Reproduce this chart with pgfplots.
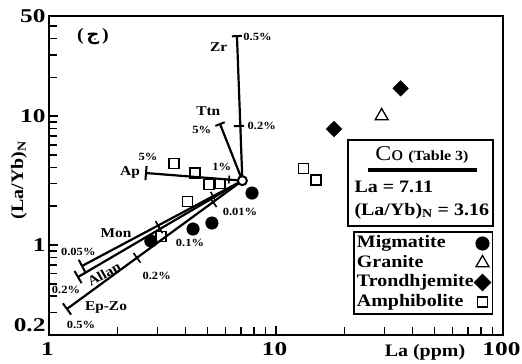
\documentclass[border=0pt]{standalone}
\usepackage{fontspec}
\setmainfont{Liberation Serif}[FakeStretch=1.14]
\newfontfamily\tickfont{Liberation Serif}[FakeStretch=1.3]
\newfontfamily\arabicfont[Script=Arabic]{DejaVu Sans}
\TeXXeTstate=1
\usepackage{pgfplots}
\pgfplotsset{compat=1.18}

\newcommand{\lblfont}{\bfseries\fontsize{13.5}{13.5}\selectfont}
\newcommand{\pctfont}{\bfseries\fontsize{11}{11}\selectfont}
\newcommand{\txtfont}{\bfseries\fontsize{17.5}{17.5}\selectfont}

\begin{document}
\begin{tikzpicture}
\useasboundingbox (0pt,0pt) rectangle (522pt,-364pt);
\begin{axis}[
  at={(49pt,-335pt)}, anchor=south west,
  scale only axis, width=454pt, height=319pt,
  xmode=log, ymode=log,
  xmin=1, xmax=100, ymin=0.2, ymax=60,
  axis line style={line width=2.4pt},
  xtick={1,10,100}, xticklabels={1,10,100},
  minor xtick={2,3,4,5,6,7,8,9,20,30,40,50,60,70,80,90},
  ytick={1,10}, yticklabels={1,10},
  minor ytick={0.3,0.4,0.5,0.6,0.7,0.8,0.9,2,3,4,5,6,7,8,9,20,30,40,50},
  extra y ticks={0.2,50}, extra y tick labels={0.2,50},
  extra y tick style={yticklabel style={yshift=10pt}, major tick length=0pt},
  xtick pos=bottom, ytick pos=left,
  tick align=inside, major tick length=9pt, minor tick length=8pt,
  every tick/.style={black, line width=1.6pt},
  tick label style={font=\tickfont\bfseries\fontsize{19.5}{19.5}\selectfont},
  xticklabel style={yshift=-4pt, xshift=-1.5pt},
  legend plot pos=right, legend cell align=left,
  legend style={at={(rel axis cs:0.978,0.326)}, anchor=north east,
    draw=black, line width=1.5pt, font=\txtfont,
    inner xsep=2pt, inner ysep=2pt, row sep=0pt,
    nodes={inner sep=1pt, text height=13pt, text depth=4.5pt}},
  clip=false,
]
% mineral fractionation vectors from the Co source composition
\addplot[line width=2.2pt, forget plot] coordinates {(7.11,3.16) (6.73,41.9)};   % Zr
\addplot[line width=2.2pt, forget plot] coordinates {(7.11,3.16) (5.67,8.69)};   % Ttn
\addplot[line width=2.2pt, forget plot] coordinates {(7.11,3.16) (2.675,3.62)};  % Ap
\addplot[line width=2.2pt, forget plot] coordinates {(7.11,3.16) (1.398,0.687)}; % Mon
\addplot[line width=2.2pt, forget plot] coordinates {(7.11,3.16) (1.342,0.564)}; % Allan
\addplot[line width=2.2pt, forget plot] coordinates {(7.11,3.16) (1.20,0.3186)}; % Ep-Zo

% percentage ticks across each vector
\addplot[only marks, mark=|, mark size=5pt, mark options={rotate=92.5, line width=2pt}, forget plot]
  coordinates {(6.73,41.9) (6.87,8.39)};
\addplot[only marks, mark=|, mark size=5pt, mark options={rotate=111.6, line width=2pt}, forget plot]
  coordinates {(5.67,8.69)};
\addplot[only marks, mark=|, mark size=7pt, mark options={rotate=175.5, line width=2pt}, forget plot]
  coordinates {(2.675,3.62)};
\addplot[only marks, mark=|, mark size=4pt, mark options={rotate=175.5, line width=1.6pt}, forget plot]
  coordinates {(6.21,3.225)};
\addplot[only marks, mark=|, mark size=7pt, mark options={rotate=208.0, line width=2pt}, forget plot]
  coordinates {(1.398,0.687)};
\addplot[only marks, mark=|, mark size=5pt, mark options={rotate=208.0, line width=1.6pt}, forget plot]
  coordinates {(3.02,1.417) (5.28,2.388)};
\addplot[only marks, mark=|, mark size=7pt, mark options={rotate=210.4, line width=2pt}, forget plot]
  coordinates {(1.342,0.564)};
\addplot[only marks, mark=|, mark size=5pt, mark options={rotate=210.4, line width=1.6pt}, forget plot]
  coordinates {(3.083,1.333)};
\addplot[only marks, mark=|, mark size=7pt, mark options={rotate=216.2, line width=2pt}, forget plot]
  coordinates {(1.20,0.3186)};
\addplot[only marks, mark=|, mark size=6pt, mark options={rotate=216.2, line width=1.6pt}, forget plot]
  coordinates {(2.442,0.795) (5.28,2.153)};

% samples
\addplot[only marks, mark=*, mark size=6.3pt, mark options={fill=black, draw=black}]
  coordinates {(2.81,1.073) (4.31,1.330) (5.22,1.481) (7.84,2.533)};
\addlegendentry{Migmatite}
\addplot[only marks, mark=triangle, mark size=7.5pt, mark options={line width=1.3pt, draw=black}]
  coordinates {(29.2,10.03)};
\addlegendentry{Granite}
\addplot[only marks, mark=square*, mark size=5.5pt, mark options={rotate=45, fill=black, draw=black}]
  coordinates {(35.4,16.46) (18.01,7.95)};
\addlegendentry{Trondhjemite}
\addplot[only marks, mark=square, mark size=5pt, mark options={line width=1.3pt, draw=black}]
  coordinates {(13.19,3.94) (15.0,3.195) (3.553,4.29) (4.397,3.62) (5.07,2.948)
               (5.67,3.012) (4.075,2.175) (3.114,1.164)};
\addlegendentry{Amphibolite}

% Co source composition
\addplot[only marks, mark=*, mark size=4.5pt, mark options={fill=white, draw=black, line width=2pt}, forget plot]
  coordinates {(7.11,3.16)};
\end{axis}

\begin{scope}[x=1pt, y=-1pt]
  % axis titles
  \node[font=\txtfont, rotate=90] at (19,180) {(La/Yb)\textsubscript{N}};
  \node[font=\txtfont] at (425,352) {La (ppm)};
  % panel letter
  \node[font=\txtfont] at (93,37) {(\,{\arabicfont\beginR ج\endR}\,)};
  % vector annotations
  \node[font=\lblfont] at (218.7,46.7) {Zr};
  \node[font=\pctfont] at (257.5,36.7) {0.5\%};
  \node[font=\lblfont] at (208.3,110.7) {Ttn};
  \node[font=\pctfont] at (261.7,126) {0.2\%};
  \node[font=\pctfont] at (201.7,130) {5\%};
  \node[font=\pctfont] at (221.7,166.7) {1\%};
  \node[font=\lblfont] at (130,172) {Ap};
  \node[font=\pctfont] at (148,157) {5\%};
  \node[font=\lblfont] at (116,233.3) {Mon};
  \node[font=\pctfont] at (78.3,251.7) {0.05\%};
  \node[font=\lblfont, rotate=30, inner sep=0pt] at (104,274) {Allan};
  \node[font=\pctfont, inner sep=0pt] at (66,290) {0.2\%};
  \node[font=\pctfont] at (156.7,276) {0.2\%};
  \node[font=\lblfont] at (106,307.3) {Ep-Zo};
  \node[font=\pctfont] at (81,325) {0.5\%};
  \node[font=\pctfont] at (190,242.7) {0.1\%};
  \node[font=\pctfont] at (240,212.3) {0.01\%};
  % source composition box
  \draw[line width=1.6pt] (348,140) rectangle (493,226);
  \node[font=\txtfont] at (422,155) {{\mdseries\fontsize{21}{21}\selectfont Co} {\fontsize{14}{14}\selectfont (Table 3)}};
  \draw[line width=3.5pt] (368,170) -- (477,170);
  \node[font=\txtfont, anchor=west] at (351,187) {La = 7.11};
  \node[font=\txtfont, anchor=west] at (351,211) {(La/Yb)\textsubscript{N} = 3.16};
\end{scope}
\end{tikzpicture}
\end{document}
